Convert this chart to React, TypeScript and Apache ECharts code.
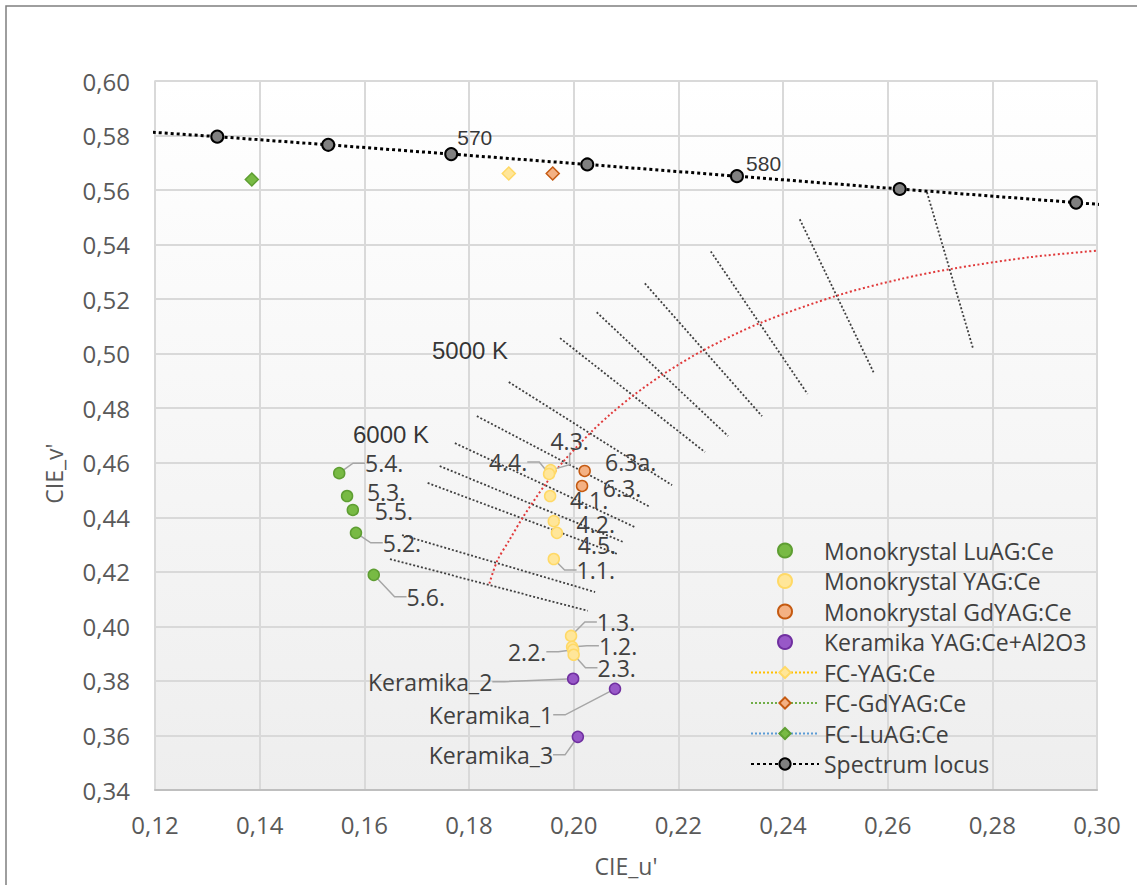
import React, { useEffect, useRef } from 'react';
import * as echarts from 'echarts';

// ---- measured chromaticity points (CIE 1976 u', v') ----
const LUAG_NAMES = ['5.4.', '5.3.', '5.5.', '5.2.', '5.6.'];
const LUAG_U = [0.1552, 0.1567, 0.1578, 0.1584, 0.1618];
const LUAG_V = [0.4562, 0.4478, 0.4427, 0.4343, 0.4189];

const YAG_NAMES = ['4.3.', '4.4.', '4.1.', '4.2.', '4.5.', '1.1.', '1.3.', '1.2.', '2.2.', '2.3.'];
const YAG_U = [0.1956, 0.1953, 0.1955, 0.1962, 0.1968, 0.1962, 0.1995, 0.1997, 0.1999, 0.2000];
const YAG_V = [0.4573, 0.4559, 0.4478, 0.4386, 0.4343, 0.4247, 0.3965, 0.3925, 0.3914, 0.3896];

const GDYAG_NAMES = ['6.3a.', '6.3.'];
const GDYAG_U = [0.2021, 0.2016];
const GDYAG_V = [0.4570, 0.4515];

const CERAMIC_NAMES = ['Keramika_2', 'Keramika_1', 'Keramika_3'];
const CERAMIC_U = [0.1999, 0.2079, 0.2008];
const CERAMIC_V = [0.3808, 0.3771, 0.3595];

const FC_YAG = [0.1876, 0.5661];
const FC_GDYAG = [0.1960, 0.5661];
const FC_LUAG = [0.1385, 0.5639];

// spectrum locus, 550 … 590 nm in 5 nm steps
const LOCUS_NM = [550, 555, 560, 565, 570, 575, 580, 585, 590];
const LOCUS_U = [0.1127, 0.1319, 0.1531, 0.1766, 0.2026, 0.2312, 0.2623, 0.2960, 0.3315];
const LOCUS_V = [0.5821, 0.5796, 0.5766, 0.5732, 0.5694, 0.5651, 0.5604, 0.5554, 0.5501];

// Planckian locus, 20000 K … 2000 K
const PLANCK_K = [20000, 15000, 12000, 10000, 8000, 7000, 6000, 5500, 5000, 4500, 4000, 3500, 3000, 2700, 2500, 2200, 2000];
const PLANCK_U = [0.1839, 0.1854, 0.1877, 0.1903, 0.1946, 0.1981, 0.2033, 0.2069, 0.2114, 0.2173, 0.2251, 0.2357, 0.2505, 0.2625, 0.2722, 0.2877, 0.3051];
const PLANCK_V = [0.4157, 0.4241, 0.4316, 0.4400, 0.4521, 0.4606, 0.4712, 0.4776, 0.4847, 0.4927, 0.5016, 0.5113, 0.5214, 0.5274, 0.5311, 0.5355, 0.5386];

// isotemperature lines: [u1, v1, u2, v2]
const ISOTHERMS = [
  [0.1649, 0.4247, 0.2027, 0.4057],
  [0.1672, 0.4335, 0.2041, 0.4126],
  [0.1721, 0.4526, 0.2083, 0.4266],
  [0.1744, 0.4588, 0.2094, 0.4310],
  [0.1773, 0.4672, 0.2117, 0.4364],
  [0.1815, 0.4771, 0.2146, 0.4438],
  [0.1876, 0.4896, 0.2188, 0.4518],
  [0.1974, 0.5057, 0.2251, 0.4639],
  [0.2044, 0.5152, 0.2295, 0.4698],
  [0.2136, 0.5258, 0.2360, 0.4771],
  [0.2262, 0.5375, 0.2447, 0.4852],
  [0.2432, 0.5493, 0.2573, 0.4932],
  [0.2675, 0.5592, 0.2763, 0.5020],
];

// free annotations
const NOTE_TEXT = ['570', '580', '5000 K', '6000 K'];
const NOTE_U = [0.1811, 0.2363, 0.1802, 0.1651];
const NOTE_V = [0.5793, 0.5698, 0.5013, 0.4705];
const NOTE_SIZE = [21, 21, 24, 24];

const X_MIN = 0.12;
const X_MAX = 0.30;
const Y_MIN = 0.34;
const Y_MAX = 0.60;
const STEP = 0.02;

// label placement (pixel offsets from the marker) and leader-line flags
const LUAG_LABEL_OFFSETS = [[45, -10], [39, -4], [41, 1], [46, 10], [52, 22]];
const LUAG_LEADERS = [true, false, false, true, true];
const YAG_LABEL_OFFSETS = [[19, -29], [-41, -12], [39, 4], [42, 3], [40, 12], [42, 11], [45, -14], [46, -1], [-46, 2], [43, 13]];
const YAG_LEADERS = [true, true, false, false, false, true, true, true, true, true];
const GDYAG_LABEL_OFFSETS = [[46, -9], [40, 2]];
const GDYAG_LEADERS = [false, false];
const CERAMIC_LABEL_OFFSETS = [[-143, 3], [-124, 26], [-87, 18]];
const CERAMIC_LEADERS = [true, true, true];

const UI_FONT = 'Open Sans';
const NOTE_FONT = 'Liberation Sans';

const fmt = (v: number) => v.toFixed(2).replace('.', ',');

function pointSeries(
  name: string, names: string[], us: number[], vs: number[],
  fill: string, border: string, offsets: number[][], leaders: boolean[], z: number
) {
  return {
    type: 'scatter',
    name,
    symbol: 'circle',
    symbolSize: 11,
    z,
    itemStyle: { color: fill, borderColor: border, borderWidth: 1.5, opacity: 1 },
    data: names.map((n, i) => ({ name: n, value: [us[i], vs[i]], labelLine: { show: leaders[i] } })),
    label: {
      show: true,
      position: 'right',
      formatter: '{b}',
      fontFamily: UI_FONT,
      fontSize: 23,
      color: '#404040',
    },
    labelLine: { show: true, length2: 12, lineStyle: { color: '#a6a6a6', width: 1.5 } },
    labelLayout: (p: any) => {
      const o = offsets[p.dataIndex] || [0, 0];
      return {
        x: p.rect.x + p.rect.width / 2 + o[0],
        y: p.rect.y + p.rect.height / 2 + o[1],
        align: 'center',
        verticalAlign: 'middle',
      };
    },
  };
}

function fcSeries(name: string, pt: number[], fill: string, border: string, lineColor: string) {
  return {
    type: 'line',
    name,
    symbol: 'diamond',
    symbolSize: 13,
    z: 4,
    itemStyle: { color: fill, borderColor: border, borderWidth: 1.5 },
    lineStyle: { color: lineColor, width: 2, type: [2, 2] },
    data: [pt],
  };
}

export default function App() {
  const ref = useRef<HTMLDivElement>(null);

  useEffect(() => {
    if (!ref.current) return;
    const chart = echarts.init(ref.current, null, { renderer: 'svg' });

    const isoSeries = ISOTHERMS.map((s) => ({
      type: 'line',
      name: 'isotherm',
      silent: true,
      symbol: 'none',
      z: 2,
      lineStyle: { color: '#404040', width: 1.8, type: [2, 2] },
      data: [[s[0], s[1]], [s[2], s[3]]],
    }));

    const option: any = {
      animation: false,
      backgroundColor: '#ffffff',
      grid: {
        left: 155,
        right: 40,
        top: 81,
        bottom: 95,
        show: true,
        borderColor: '#d9d9d9',
        borderWidth: 1.5,
        backgroundColor: new echarts.graphic.LinearGradient(0, 0, 0, 1, [
          { offset: 0, color: '#ffffff' },
          { offset: 1, color: '#eeeeee' },
        ]),
      },
      xAxis: {
        type: 'value',
        min: X_MIN,
        max: X_MAX,
        interval: STEP,
        name: "CIE_u'",
        nameLocation: 'middle',
        nameGap: 64,
        nameTextStyle: { fontFamily: UI_FONT, fontSize: 23, color: '#595959' },
        axisLine: { show: true, lineStyle: { color: '#bfbfbf', width: 2 } },
        axisTick: { show: false },
        axisLabel: { formatter: fmt, fontFamily: UI_FONT, fontSize: 24, color: '#595959', margin: 22 },
        splitLine: { show: true, lineStyle: { color: '#d9d9d9', width: 2 } },
      },
      yAxis: {
        type: 'value',
        min: Y_MIN,
        max: Y_MAX,
        interval: STEP,
        name: "CIE_v'",
        nameLocation: 'middle',
        nameGap: 90,
        nameTextStyle: { fontFamily: UI_FONT, fontSize: 23, color: '#595959', padding: [0, 76, 0, 0] },
        axisLine: { show: false },
        axisTick: { show: false },
        axisLabel: { formatter: fmt, fontFamily: UI_FONT, fontSize: 24, color: '#595959', margin: 25 },
        splitLine: { show: true, lineStyle: { color: '#d9d9d9', width: 2 } },
      },
      legend: {
        data: [
          'Monokrystal LuAG:Ce',
          'Monokrystal YAG:Ce',
          'Monokrystal GdYAG:Ce',
          'Keramika YAG:Ce+Al2O3',
          'FC-YAG:Ce',
          'FC-GdYAG:Ce',
          'FC-LuAG:Ce',
          'Spectrum locus',
        ],
        orient: 'vertical',
        left: 750,
        top: 539,
        padding: 0,
        itemWidth: 68,
        itemHeight: 14,
        itemGap: 7.5,
        selectedMode: false,
        textStyle: { fontFamily: UI_FONT, fontSize: 23, color: '#404040' },
      },
      graphic: [
        {
          type: 'rect',
          silent: true,
          shape: { x: 6, y: 6, width: 1300, height: 1100 },
          style: { fill: 'none', stroke: '#7f7f7f', lineWidth: 1.5 },
        },
      ],
      series: [
        ...isoSeries,
        {
          type: 'line',
          name: 'Planckian locus',
          silent: true,
          symbol: 'none',
          smooth: 0.3,
          z: 3,
          lineStyle: { color: '#e0393a', width: 2, type: [2, 2.5] },
          data: PLANCK_K.map((_, i) => [PLANCK_U[i], PLANCK_V[i]]),
        },
        pointSeries('Monokrystal LuAG:Ce', LUAG_NAMES, LUAG_U, LUAG_V, '#78ba44', '#5e9e32', LUAG_LABEL_OFFSETS, LUAG_LEADERS, 6),
        pointSeries('Monokrystal YAG:Ce', YAG_NAMES, YAG_U, YAG_V, '#ffe699', '#ffd966', YAG_LABEL_OFFSETS, YAG_LEADERS, 6),
        pointSeries('Monokrystal GdYAG:Ce', GDYAG_NAMES, GDYAG_U, GDYAG_V, '#f4b183', '#c55a11', GDYAG_LABEL_OFFSETS, GDYAG_LEADERS, 6),
        pointSeries('Keramika YAG:Ce+Al2O3', CERAMIC_NAMES, CERAMIC_U, CERAMIC_V, '#9858c8', '#7030a0', CERAMIC_LABEL_OFFSETS, CERAMIC_LEADERS, 6),
        fcSeries('FC-YAG:Ce', FC_YAG, '#ffe699', '#ffd966', '#ffc000'),
        fcSeries('FC-GdYAG:Ce', FC_GDYAG, '#f4b183', '#c55a11', '#70ad47'),
        fcSeries('FC-LuAG:Ce', FC_LUAG, '#78ba44', '#5e9e32', '#5b9bd5'),
        {
          type: 'line',
          name: 'Spectrum locus',
          symbol: 'circle',
          symbolSize: 12,
          z: 5,
          itemStyle: { color: '#808080', borderColor: '#000000', borderWidth: 2 },
          lineStyle: { color: '#000000', width: 3, type: [3, 3] },
          data: LOCUS_NM.map((_, i) => [LOCUS_U[i], LOCUS_V[i]]),
        },
        {
          type: 'scatter',
          name: 'notes',
          silent: true,
          symbolSize: 1,
          z: 7,
          itemStyle: { color: 'transparent' },
          data: NOTE_TEXT.map((t, i) => ({ name: t, value: [NOTE_U[i], NOTE_V[i]], label: { fontSize: NOTE_SIZE[i] } })),
          label: { show: true, position: 'inside', formatter: '{b}', fontFamily: NOTE_FONT, color: '#000000' },
        },
      ],
    };

    chart.setOption(option);
    return () => chart.dispose();
  }, []);

  return (
    <div
      ref={ref}
      style={{ position: 'fixed', left: 0, top: 0, width: 1137, height: 885, background: '#ffffff' }}
    />
  );
}
